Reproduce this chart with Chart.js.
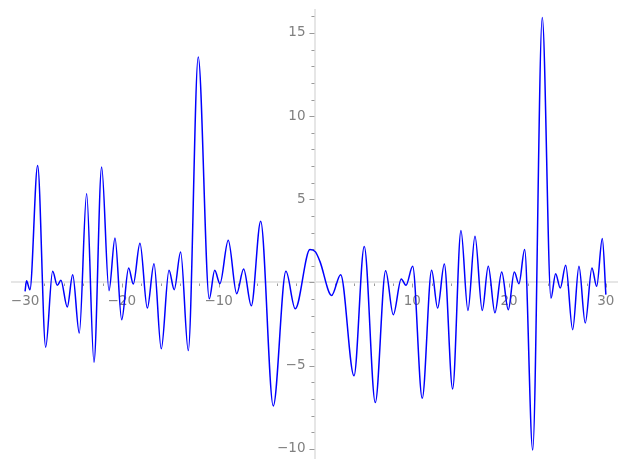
<!DOCTYPE html>
<html>
<head>
<meta charset="utf-8">
<script src="https://cdn.jsdelivr.net/npm/chart.js@4/dist/chart.umd.min.js"></script>
<style>
  html, body { margin: 0; padding: 0; background: #ffffff; }
  #wrap { width: 627px; height: 469px; }
</style>
</head>
<body>
<div id="wrap"><canvas id="c" width="627" height="469"></canvas></div>
<script>
const xValues = [
  -30.0, -29.85, -29.5, -28.7, -27.87, -27.15, -26.67, -26.3, -25.64, -25.08,
  -24.4, -23.64, -22.88, -22.09, -21.33, -20.71, -20.02, -19.3, -18.82, -18.13,
  -17.37, -16.68, -15.93, -15.13, -14.59, -13.93, -13.14, -12.11, -10.97, -10.41,
  -9.87, -9.01, -8.14, -7.42, -6.63, -5.66, -4.36, -3.05, -2.09, -0.57,
  0.0, 0.46, 1.67, 2.6, 3.98, 5.04, 6.18, 7.25, 8.04, 8.86,
  9.35, 10.04, 11.03, 12.0, 12.62, 13.31, 14.17, 15.03, 15.75, 16.48,
  17.23, 17.85, 18.54, 19.24, 19.92, 20.54, 21.02, 21.61, 22.44, 23.43,
  24.33, 24.81, 25.29, 25.85, 26.57, 27.22, 27.87, 28.56, 29.05, 29.63,
  30.0
];
// y values of the curve at those points
const yValues = [
  -0.53, 0.10, -0.44, 7.04, -3.89, 0.67, -0.17, 0.13, -1.47, 0.47,
  -3.04, 5.33, -4.79, 6.94, -0.49, 2.68, -2.24, 0.87, -0.09, 2.36,
  -1.54, 1.13, -3.99, 0.73, -0.43, 1.84, -4.09, 13.56, -0.98, 0.73,
  -0.07, 2.54, -0.67, 0.81, -1.40, 3.68, -7.42, 0.67, -1.58, 1.98,
  1.84, 1.27, -0.78, 0.47, -5.61, 2.17, -7.22, 0.71, -1.94, 0.21,
  -0.17, 0.97, -6.96, 0.73, -1.54, 1.11, -6.40, 3.12, -1.68, 2.78,
  -1.68, 0.97, -1.82, 0.63, -1.64, 0.63, -0.07, 1.98, -10.07, 15.93,
  -0.94, 0.53, -0.33, 1.03, -2.84, 0.97, -2.44, 0.87, -0.23, 2.64,
  -0.73
];
// labelled ticks
const xTickLabels = [-30, -20, -10, 10, 20, 30];
const yTickLabels = [-10, -5, 5, 10, 15];
// small unlabelled ticks
const xMinorTicks = [-30,-28,-26,-24,-22,-20,-18,-16,-14,-12,-10,-8,-6,-4,-2,0,2,4,6,8,10,12,14,16,18,20,22,24,26,28,30];
const yMinorTicks = [-10,-9,-8,-7,-6,-5,-4,-3,-2,-1,0,1,2,3,4,5,6,7,8,9,10,11,12,13,14,15,16];

const points = xValues.map((x, i) => ({ x: x, y: yValues[i] }));
const fmt = v => (v < 0 ? '\u2212' + Math.abs(v) : String(v));

const tickMarks = {
  id: 'tickMarks',
  beforeDraw(chart) {
    // move the y labels a little to the left of the axis
    const ys = chart.scales.y;
    const items = ys.getLabelItems();
    items.forEach(it => {
      if (!it._shifted) { it.options.translation[0] -= 10; it._shifted = true; }
    });
  },
  beforeDatasetsDraw(chart) {
    const ctx = chart.ctx, xs = chart.scales.x, ys = chart.scales.y;
    const x0 = xs.getPixelForValue(0), y0 = ys.getPixelForValue(0);
    ctx.save();
    ctx.strokeStyle = '#9a9a9a';
    ctx.lineWidth = 1;
    ctx.beginPath();
    xMinorTicks.forEach(v => {
      if (v === 0) return;
      const px = Math.round(xs.getPixelForValue(v)) + 0.5;
      const len = (v % 10 === 0) ? 4 : 2.5;
      ctx.moveTo(px, y0 + 1);
      ctx.lineTo(px, y0 + 1 + len);
    });
    yMinorTicks.forEach(v => {
      const py = Math.round(ys.getPixelForValue(v)) + 0.5;
      const len = (v % 5 === 0) ? 5 : 3;
      ctx.moveTo(x0 - 1, py);
      ctx.lineTo(x0 - 1 - len, py);
    });
    ctx.stroke();
    ctx.restore();
  }
};

new Chart(document.getElementById('c'), {
  type: 'scatter',
  data: {
    datasets: [{
      data: points,
      showLine: true,
      borderColor: '#0000ff',
      backgroundColor: '#0000ff',
      borderWidth: 1.5,
      pointRadius: 0,
      cubicInterpolationMode: 'monotone',
      fill: false
    }]
  },
  options: {
    responsive: false,
    animation: false,
    layout: { padding: { left: 12, right: 10, top: 10, bottom: 11 } },
    plugins: { legend: { display: false }, tooltip: { enabled: false } },
    scales: {
      x: {
        type: 'linear',
        position: { y: 0 },
        min: -31.35,
        max: 31.15,
        afterBuildTicks: s => { s.ticks = xTickLabels.map(v => ({ value: v })); },
        grid: { display: false },
        border: { display: true, color: '#e6e6e6', width: 2 },
        ticks: {
          callback: v => fmt(v),
          color: '#808080',
          font: { family: 'DejaVu Sans', size: 13.5 },
          padding: 3,
          maxRotation: 0,
          autoSkip: false
        }
      },
      y: {
        type: 'linear',
        position: { x: 0 },
        min: -10.55,
        max: 16.38,
        afterBuildTicks: s => { s.ticks = yTickLabels.map(v => ({ value: v })); },
        grid: { display: false },
        border: { display: true, color: '#e6e6e6', width: 2 },
        ticks: {
          callback: v => fmt(v),
          color: '#808080',
          font: { family: 'DejaVu Sans', size: 13.5 },
          padding: 0,
          autoSkip: false
        }
      }
    }
  },
  plugins: [tickMarks]
});
</script>
</body>
</html>
